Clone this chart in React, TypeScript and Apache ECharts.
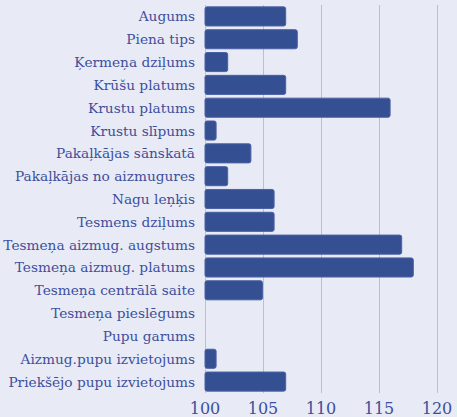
import React, { useEffect, useRef } from "react";
import * as echarts from "echarts";

const categories = [
  "Augums",
  "Piena tips",
  "Ķermeņa dziļums",
  "Krūšu platums",
  "Krustu platums",
  "Krustu slīpums",
  "Pakaļkājas sānskatā",
  "Pakaļkājas no aizmugures",
  "Nagu leņķis",
  "Tesmens dziļums",
  "Tesmeņa aizmug. augstums",
  "Tesmeņa aizmug. platums",
  "Tesmeņa centrālā saite",
  "Tesmeņa pieslēgums",
  "Pupu garums",
  "Aizmug.pupu izvietojums",
  "Priekšējo pupu izvietojums",
];
const values = [107, 108, 102, 107, 116, 101, 104, 102, 106, 106, 117, 118, 105, 100, 100, 101, 107];
const xTicks = [100, 105, 110, 115, 120];

const TEXT = "#3d4f9c";
const BAR = "#344f92";
const GRID = "#b4bfe2";
const BG = "#e8eaf6";
const FONT = "DejaVu Serif";

export default function App() {
  const ref = useRef<HTMLDivElement>(null);
  useEffect(() => {
    const chart = echarts.init(ref.current!, undefined, { renderer: "svg" });
    chart.setOption({
      animation: false,
      backgroundColor: BG,
      grid: { left: 205, right: 20, top: 5, bottom: 24, containLabel: false },
      xAxis: {
        type: "value",
        min: xTicks[0],
        max: xTicks[xTicks.length - 1],
        interval: 5,
        axisLine: { show: false },
        axisTick: { show: false },
        splitLine: { show: true, lineStyle: { color: GRID, width: 1 } },
        axisLabel: { color: TEXT, fontFamily: FONT, fontSize: 16, margin: 7 },
      },
      yAxis: {
        type: "category",
        data: categories,
        inverse: true,
        axisLine: { show: false },
        axisTick: { show: false },
        splitLine: { show: false },
        axisLabel: { color: TEXT, fontFamily: FONT, fontSize: 13.7, margin: 10 },
      },
      series: [
        {
          type: "bar",
          data: values,
          barCategoryGap: "12%",
          itemStyle: { color: BAR, borderColor: "#4a61a3", borderWidth: 1, borderRadius: 2 },
        },
      ],
    });
    return () => chart.dispose();
  }, []);
  return <div ref={ref} style={{ position: "fixed", left: 0, top: 0, width: 457, height: 417 }} />;
}
